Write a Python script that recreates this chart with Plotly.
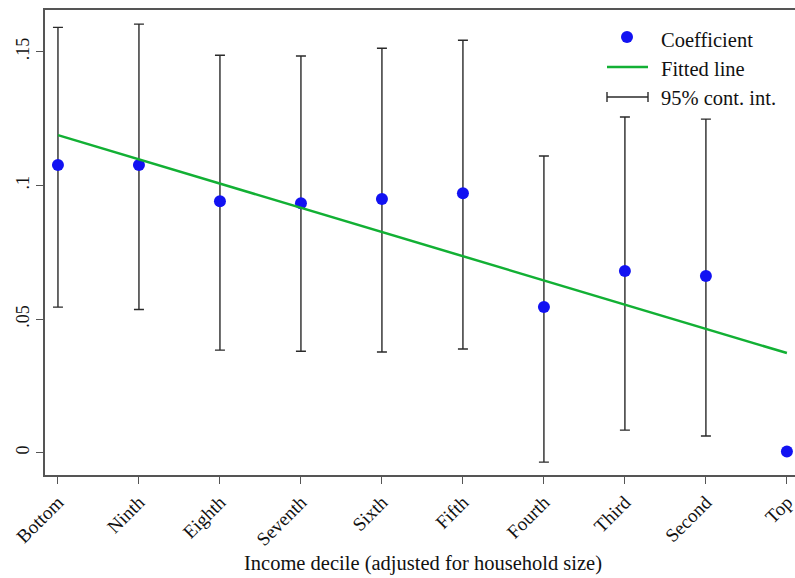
import plotly.graph_objects as go

deciles = ["Bottom", "Ninth", "Eighth", "Seventh", "Sixth", "Fifth", "Fourth", "Third", "Second", "Top"]
coef = [0.1076, 0.1076, 0.0941, 0.0933, 0.0949, 0.0971, 0.0545, 0.0680, 0.0661, 0.0005]
ci_upper = [0.1591, 0.1603, 0.1487, 0.1484, 0.1513, 0.1543, 0.1110, 0.1256, 0.1248, 0.0005]
ci_lower = [0.0545, 0.0536, 0.0384, 0.0380, 0.0377, 0.0388, -0.0035, 0.0085, 0.0063, 0.0005]
fit_x = ["Bottom", "Top"]
fit_y = [0.1188, 0.0373]
ytick_vals = [0, 0.05, 0.1, 0.15]
ytick_text = ["0", ".05", ".1", ".15"]

FONT = "Liberation Serif"
BLUE = "#1212f2"
GREEN = "#12b034"
BAR = "#2a2a2a"
AX = "#555555"

L, R, T, B = 45, 0, 10, 103
W, H = 795, 578
PW, PH = W - L - R, H - T - B

def px(x):
    return (x - L) / PW

def py(y):
    return (H - B - y) / PH

fig = go.Figure()

fig.add_trace(go.Scatter(
    x=deciles, y=coef, mode="markers",
    marker=dict(color=BLUE, size=12),
    error_y=dict(type="data", symmetric=False,
                 array=[u - c for u, c in zip(ci_upper, coef)],
                 arrayminus=[c - l for c, l in zip(coef, ci_lower)],
                 color=BAR, thickness=1.4, width=5),
    showlegend=False))

fig.add_trace(go.Scatter(
    x=fit_x, y=fit_y, mode="lines",
    line=dict(color=GREEN, width=2.5), showlegend=False, hoverinfo="skip"))

# Legend (manual)
shapes = []
annotations = []
shapes.append(dict(type="circle", xref="paper", yref="paper",
                   x0=px(621), x1=px(633), y0=py(31), y1=py(43),
                   fillcolor=BLUE, line=dict(width=0)))
shapes.append(dict(type="line", xref="paper", yref="paper",
                   x0=px(607), x1=px(648), y0=py(67), y1=py(67),
                   line=dict(color=GREEN, width=2.5)))
shapes.append(dict(type="line", xref="paper", yref="paper",
                   x0=px(607), x1=px(648), y0=py(97), y1=py(97),
                   line=dict(color=BAR, width=1.4)))
for xx in (607, 648):
    shapes.append(dict(type="line", xref="paper", yref="paper",
                       x0=px(xx), x1=px(xx), y0=py(92), y1=py(102),
                       line=dict(color=BAR, width=1.4)))
for txt, yy in (("Coefficient", 40), ("Fitted line", 69), ("95% cont. int.", 98)):
    annotations.append(dict(text=txt, xref="paper", yref="paper",
                            x=px(659), y=py(yy), xanchor="left", yanchor="middle",
                            showarrow=False, font=dict(family=FONT, size=20.5, color="#111")))

annotations.append(dict(text="Income decile (adjusted for household size)",
                        xref="paper", yref="paper", x=px(423), y=py(563),
                        xanchor="center", yanchor="middle", showarrow=False,
                        font=dict(family=FONT, size=20.5, color="#111")))

fig.update_layout(
    width=W, height=H,
    margin=dict(l=L, r=R, t=T, b=B, autoexpand=False),
    paper_bgcolor="white", plot_bgcolor="white",
    showlegend=False,
    shapes=shapes, annotations=annotations,
    xaxis=dict(type="category", categoryorder="array", categoryarray=deciles,
               range=[-0.16, 9.1],
               showgrid=False, zeroline=False,
               showline=True, mirror=True, linecolor=AX, linewidth=1.6,
               ticks="outside", ticklen=7, tickcolor=AX, tickwidth=1.4,
               tickangle=-45, tickfont=dict(family=FONT, size=19, color="#111")),
    yaxis=dict(range=[-0.0083, 0.1656],
               tickvals=ytick_vals, ticktext=ytick_text,
               showgrid=False, zeroline=False,
               showline=True, linecolor=AX, linewidth=1.6,
               ticks="outside", ticklen=7, tickcolor=AX, tickwidth=1.4,
               tickangle=-90, tickfont=dict(family=FONT, size=18, color="#111")),
)

fig.write_html("out.html", config={"displayModeBar": False},
               post_script="document.body.style.margin='0';document.body.style.overflow='hidden';")
